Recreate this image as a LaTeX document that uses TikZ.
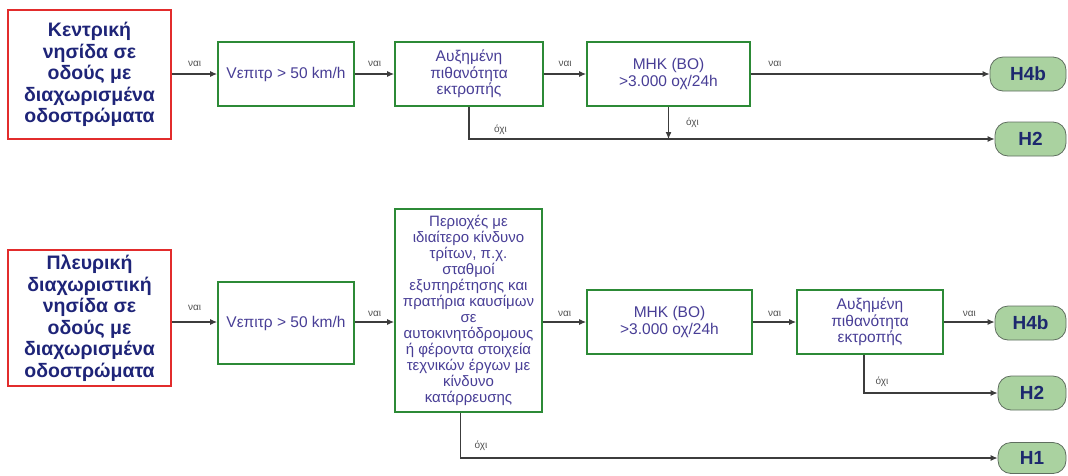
\documentclass[tikz,border=0pt]{standalone}
\usepackage{fontspec}
\setmainfont{Liberation Sans}
\usetikzlibrary{arrows.meta}
\definecolor{startred}{RGB}{226,44,44}
\definecolor{starttext}{RGB}{30,36,120}
\definecolor{boxgreen}{RGB}{44,138,54}
\definecolor{boxtext}{RGB}{72,62,150}
\definecolor{resultfill}{RGB}{170,210,160}
\definecolor{resultedge}{RGB}{95,110,95}
\definecolor{resulttext}{RGB}{28,40,110}
\definecolor{flowgrey}{RGB}{60,60,60}
\definecolor{lblgrey}{RGB}{80,80,80}

\begin{document}
\begin{tikzpicture}[
	x=1pt, y=-1pt,
	every node/.style={font=\fontsize{15.5}{16.5}\selectfont, text=boxtext},
	start/.style={draw=startred, line width=2.4pt, fill=white, minimum width=163pt, align=center, text=starttext, font=\bfseries\fontsize{19.5}{21.5}\selectfont},
	test/.style={draw=boxgreen, line width=1.8pt, fill=white, minimum height=64pt, align=center, inner sep=2pt},
	result/.style={draw=resultedge, line width=0.8pt, fill=resultfill, rounded corners=13pt, minimum height=34pt, text=resulttext, font=\bfseries\fontsize{19}{19}\selectfont},
	lbl/.style={font=\fontsize{10}{10}\selectfont, text=lblgrey, inner sep=1pt},
	flow/.style={-{Latex[length=7pt,width=6pt]}, line width=1.1pt, draw=flowgrey}
]
\useasboundingbox (0,0) rectangle (1068,475);

% central island
\node[start, minimum height=129pt] (k0) at (89.5,74.5) {Κεντρική\\νησίδα σε\\οδούς με\\διαχωρισμένα\\οδοστρώματα};
\node[test, minimum width=136pt] (k1) at (286,74) {Vεπιτρ > 50 km/h};
\node[test, minimum width=148pt] (k2) at (469,74) {Αυξημένη\\πιθανότητα\\εκτροπής};
\node[test, minimum width=163pt] (k3) at (668.5,74) {ΜΗΚ (ΒΟ)\\>3.000 οχ/24h};
\node[result, minimum width=76pt] (k4) at (1028,74) {H4b};
\node[result, minimum width=71pt] (k5) at (1030.5,139) {H2};

\draw[flow] (k0.east |- k1.west) -- node[lbl, above=6pt] {ναι} (k1.west);
\draw[flow] (k1) -- node[lbl, above=6pt] {ναι} (k2);
\draw[flow] (k2) -- node[lbl, above=6pt] {ναι} (k3);
\draw[flow] (k3) -- node[lbl, pos=0.1, above=6pt] {ναι} (k4);
\draw[flow] (k2.south) |- node[lbl, pos=0.53, above=3pt] {όχι} (k5.west);
\draw[flow] (k3.south) -- node[lbl, right=16pt] {όχι} (k3.south |- k5.west);

% side island
\node[start, minimum height=136pt] (p0) at (89.5,318) {Πλευρική\\διαχωριστική\\νησίδα σε\\οδούς με\\διαχωρισμένα\\οδοστρώματα};
\node[test, minimum width=136pt, minimum height=82pt] (p1) at (286,323) {Vεπιτρ > 50 km/h};
\node[test, minimum width=147pt, minimum height=203pt, font=\fontsize{15}{16}\selectfont] (p2) at (468.5,310.5) {Περιοχές με\\ιδιαίτερο κίνδυνο\\τρίτων, π.χ.\\σταθμοί\\εξυπηρέτησης και\\πρατήρια καυσίμων\\σε\\αυτοκινητόδρομους\\ή φέροντα στοιχεία\\τεχνικών έργων με\\κίνδυνο\\κατάρρευσης};
\node[test, minimum width=165pt] (p3) at (669.5,322) {ΜΗΚ (ΒΟ)\\>3.000 οχ/24h};
\node[test, minimum width=146pt] (p4) at (870,322) {Αυξημένη\\πιθανότητα\\εκτροπής};
\node[result, minimum width=71pt] (p5) at (1030.5,323) {H4b};
\node[result, minimum width=68pt] (p6) at (1032,393) {H2};
\node[result, minimum width=68pt, minimum height=31pt] (p7) at (1032,458) {H1};

\draw[flow] (p0.east |- p3.west) -- node[lbl, above=10pt] {ναι} (p1.west |- p3.west);
\draw[flow] (p1.east |- p3.west) -- node[lbl, above=4pt] {ναι} (p2.west |- p3.west);
\draw[flow] (p2.east |- p3.west) -- node[lbl, above=4pt] {ναι} (p3.west);
\draw[flow] (p3) -- node[lbl, above=4pt] {ναι} (p4);
\draw[flow] (p4.east) -- node[lbl, above=4pt] {ναι} (p5.west |- p4.east);
\draw[flow] ([xshift=-6pt]p4.south) |- node[lbl, pos=0.567, above=5pt] {όχι} (p6.west);
\draw[flow] ([xshift=-8pt]p2.south) |- node[lbl, pos=0.519, above=6pt] {όχι} (p7.west);
\end{tikzpicture}
\end{document}
